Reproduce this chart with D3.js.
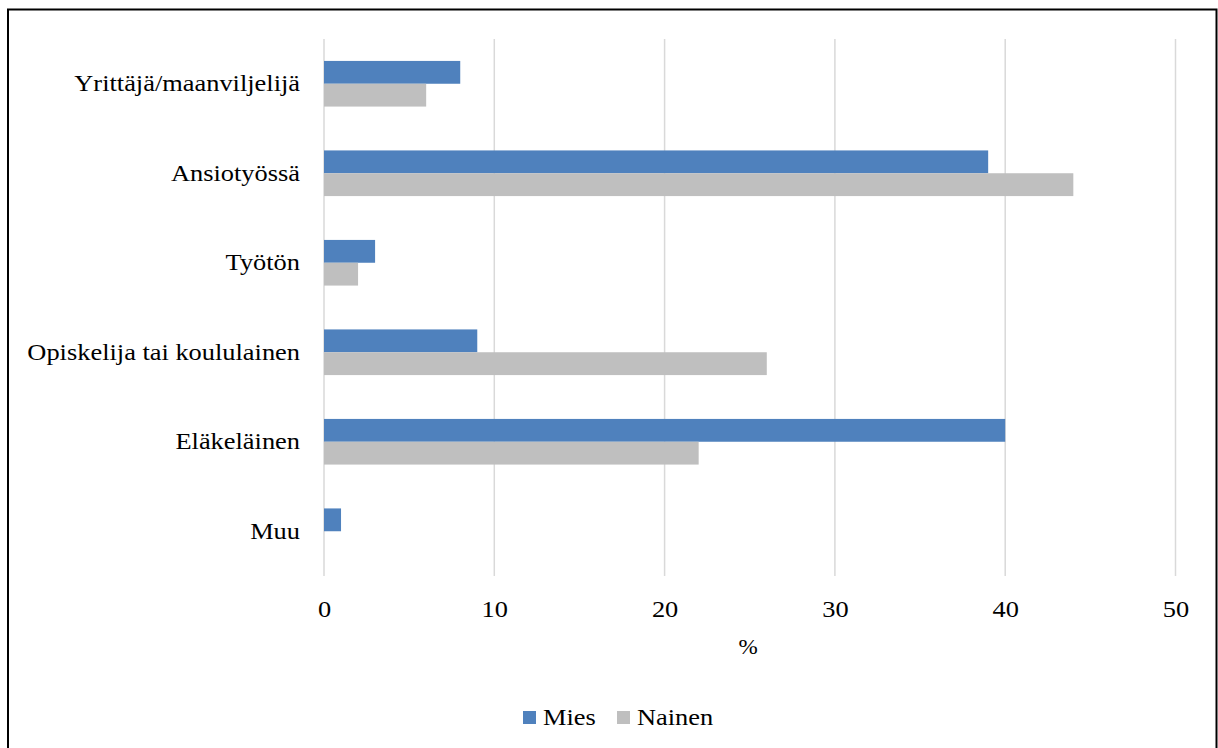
<!DOCTYPE html>
<html>
<head>
<meta charset="utf-8">
<script src="https://cdn.jsdelivr.net/npm/d3@7"></script>
<style>
  body { margin: 0; background: #fff; }
</style>
</head>
<body>
<svg width="1218" height="748"></svg>
<script>
const categories = ["Yrittäjä/maanviljelijä", "Ansiotyössä", "Työtön", "Opiskelija tai koululainen", "Eläkeläinen", "Muu"];
const mies = [8, 39, 3, 9, 40, 1];
const nainen = [6, 44, 2, 26, 22, 0];
const ticks = [0, 10, 20, 30, 40, 50];
const seriesNames = ["Mies", "Nainen"];
const colors = { Mies: "#4F81BD", Nainen: "#BFBFBF" };
const FONT = "Times New Roman, Liberation Serif, DejaVu Serif";
const stretch = 1.1; // text in the original is a bit wider than tall

const svg = d3.select("svg").attr("font-family", FONT);

// outer frame
svg.append("rect")
    .attr("x", 8).attr("y", 9.5)
    .attr("width", 1208.5).attr("height", 745)
    .attr("fill", "none")
    .attr("stroke", "#000")
    .attr("stroke-width", 2);

const margin = { top: 39, left: 324, right: 42.5, bottom: 172 };
const width = 1218 - margin.left - margin.right;
const height = 748 - margin.top - margin.bottom;

const g = svg.append("g").attr("transform", `translate(${margin.left},${margin.top})`);

const x = d3.scaleLinear().domain([0, 50]).range([0, width]);
const y = d3.scaleBand().domain(categories).range([0, height]).paddingInner(0.49).paddingOuter(0.245);
const ySub = d3.scaleBand().domain(seriesNames).range([0, y.bandwidth()]);

// gridlines
g.selectAll(".grid")
    .data(ticks)
    .join("line")
    .attr("class", "grid")
    .attr("x1", d => x(d)).attr("x2", d => x(d))
    .attr("y1", 0).attr("y2", height)
    .attr("stroke", "#d9d9d9")
    .attr("stroke-width", 1.5);

// bars
const rows = categories.map((c, i) => ({ cat: c, Mies: mies[i], Nainen: nainen[i] }));
const groups = g.selectAll(".row")
    .data(rows)
    .join("g")
    .attr("class", "row")
    .attr("transform", d => `translate(0,${y(d.cat)})`);

groups.selectAll("rect")
    .data(d => seriesNames.map(s => ({ s, v: d[s] })))
    .join("rect")
    .attr("x", x(0))
    .attr("y", d => ySub(d.s))
    .attr("width", d => x(d.v) - x(0))
    .attr("height", ySub.bandwidth())
    .attr("fill", d => colors[d.s]);

// x axis
const xAxis = g.append("g")
    .attr("transform", `translate(0,${height})`)
    .call(d3.axisBottom(x).tickValues(ticks).tickSize(0).tickPadding(24))
    .attr("font-family", FONT);
xAxis.select(".domain").remove();
xAxis.selectAll("text")
    .attr("font-size", 24)
    .attr("fill", "#000")
    .attr("transform", `scale(${stretch},1)`);

// y axis
const yAxis = g.append("g")
    .call(d3.axisLeft(y).tickSize(0).tickPadding(24))
    .attr("font-family", FONT);
yAxis.select(".domain").remove();
yAxis.selectAll("text")
    .attr("font-size", 24)
    .attr("fill", "#000")
    .attr("x", -24 / stretch)
    .attr("transform", `scale(${stretch},1)`);

// x label
svg.append("text")
    .attr("transform", `translate(748,654) scale(${stretch},1)`)
    .attr("text-anchor", "middle")
    .attr("font-size", 21)
    .text("%");

// legend
const legend = svg.append("g").attr("transform", "translate(523,711)");
const legendX = [0, 94];
seriesNames.forEach((s, i) => {
    const lg = legend.append("g").attr("transform", `translate(${legendX[i]},0)`);
    lg.append("rect").attr("width", 13).attr("height", 13).attr("fill", colors[s]);
    lg.append("text")
        .attr("transform", `translate(20,14) scale(${stretch},1)`)
        .attr("font-size", 24)
        .text(s);
});
</script>
</body>
</html>
